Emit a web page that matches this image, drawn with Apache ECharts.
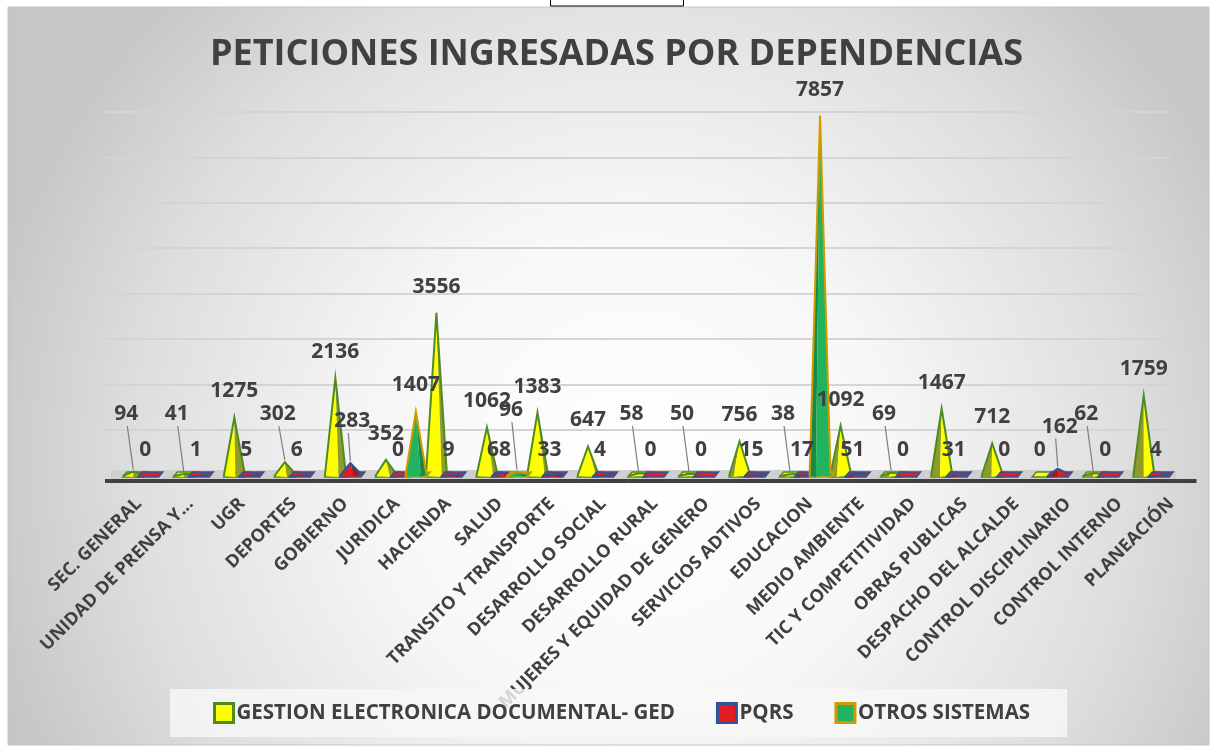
<!DOCTYPE html>
<html>
<head>
<meta charset="utf-8">
<script src="https://cdn.jsdelivr.net/npm/echarts@6/dist/echarts.min.js"></script>
<style>
  html, body { margin: 0; padding: 0; background: #fff; }
  #chart { width: 1217px; height: 747px; }
</style>
</head>
<body>
<div id="chart"></div>
<script>
// datos
const categories = [
  'SEC. GENERAL', 'UNIDAD DE PRENSA Y...', 'UGR', 'DEPORTES', 'GOBIERNO', 'JURIDICA',
  'HACIENDA', 'SALUD', 'TRANSITO Y TRANSPORTE', 'DESARROLLO SOCIAL', 'DESARROLLO RURAL',
  'MUJERES Y EQUIDAD DE GENERO', 'SERVICIOS ADTIVOS', 'EDUCACION', 'MEDIO AMBIENTE',
  'TIC Y COMPETITIVIDAD', 'OBRAS PUBLICAS', 'DESPACHO DEL ALCALDE', 'CONTROL DISCIPLINARIO',
  'CONTROL INTERNO', 'PLANEACIÓN'
]
const gedValues = [94, 41, 1275, 302, 2136, 352, 3556, 1062, 1383, 647, 58, 50, 756, 38, 1092, 69, 1467, 712, 0, 62, 1759]
const pqrsValues = [0, 1, 5, 6, 283, 0, 9, 68, 33, 4, 0, 0, 15, 17, 51, 0, 31, 0, 162, 0, 4]
const otrosValues = [null, null, null, null, null, 1407, null, 96, null, null, null, null, null, 7857, null, null, null, null, null, null, null]
const seriesNames = ['GESTION ELECTRONICA DOCUMENTAL- GED', 'PQRS', 'OTROS SISTEMAS']

const FONT = '"Open Sans", "Noto Sans", sans-serif'
const TXT = '#404040'

// estilo de cada piramide
const looks = [
  { offset: -15, face: '#ffff00', side: '#8f9c2c', edge: '#4f8a23', kind: 'ged' },
  { offset: 0, face: '#e31b23', side: '#a01820', edge: '#2f5597', kind: 'pqrs' },
  { offset: 15, face: '#22b35e', side: '#178a45', edge: '#d09a00', kind: 'otros' }
]

const chart = echarts.init(document.getElementById('chart'))

const VIEW_X = 600 // centro de la perspectiva

const pyramid = (look) => (params, api) => {
  const v = api.value(1)
  if (isNaN(v)) return
  const idx = api.value(0)
  const p0 = api.coord([idx, 0])
  const p1 = api.coord([idx, v])
  const base = p0[1]
  const cx = p0[0] + look.offset
  const hw = 10.5
  const by = base
  const ax = cx
  const ay = p1[1]
  const kids = []
  kids.push({
    type: 'polygon',
    shape: { points: [[cx - hw, by + 1], [cx + hw, by + 1], [cx + hw + 4, by - 4], [cx - hw + 4, by - 4]] },
    style: { fill: look.face, stroke: look.edge, lineWidth: 1.5 }
  })
  if (v > 0) {
    const d = cx - VIEW_X
    const f = Math.min(0.5, Math.abs(d) / 1000 + 0.08)
    const L = [cx - hw, by], R = [cx + hw, by - 2], A = [ax, ay]
    if (d < 0) {
      const s = [cx + hw - 2 * hw * f, by + 1]
      kids.push({ type: 'polygon', shape: { points: [L, A, s] }, style: { fill: look.face } })
      kids.push({ type: 'polygon', shape: { points: [s, A, R] }, style: { fill: look.side } })
    } else {
      const s = [cx - hw + 2 * hw * f, by + 1]
      kids.push({ type: 'polygon', shape: { points: [L, A, s] }, style: { fill: look.side } })
      kids.push({ type: 'polygon', shape: { points: [s, A, R] }, style: { fill: look.face } })
    }
    kids.push({
      type: 'polyline',
      shape: { points: [L, A, R] },
      style: { fill: null, stroke: look.edge, lineWidth: 2, lineJoin: 'miter' }
    })
  }
  // etiqueta
  let ly, lx = ax, line = false
  if (look.kind === 'ged') {
    if (v === 0) { ly = base - 26; lx = ax - 3 }
    else if (v >= 350) { ly = ay - 26 }
    else { ly = base - 62; line = true; lx = ax - 7 }
  } else if (look.kind === 'pqrs') {
    if (v >= 100) { ly = ay - 42; line = true; lx = ax + 2 }
    else { ly = base - 26; lx = ax - 3 }
  } else {
    ly = Math.min(ay - 26, base - 66)
    if (ly < ay - 40) { line = true; lx = ax - 6 }
  }
  if (line) {
    kids.push({
      type: 'line', z2: 50,
      shape: { x1: lx + (look.kind === 'pqrs' ? -4 : 1), y1: ly + 12, x2: ax, y2: ay - 2 },
      style: { stroke: '#7f7f7f', lineWidth: 1.2 }
    })
  }
  kids.push({
    type: 'text', z2: 100,
    style: {
      text: String(v), x: lx, y: ly, align: 'center', verticalAlign: 'middle',
      fill: TXT, font: 'bold 21px ' + FONT
    }
  })
  return { type: 'group', children: kids }
}

const floor = (params, api) => {
  const idx = api.value(0)
  const p0 = api.coord([idx, 0])
  const bw = api.size([1, 0])[0]
  let x0 = p0[0] - bw / 2
  let x1 = p0[0] + bw / 2
  let b0 = x0, b1 = x1
  if (idx === 0) { x0 -= 12; b0 -= 18 }
  if (idx === categories.length - 1) { x1 -= 8; b1 += 12 }
  return {
    type: 'group',
    children: [
      { type: 'rect', shape: { x: x0, y: p0[1] - 6, width: x1 - x0 + 0.5, height: 9 }, style: { fill: '#cfcfcf' } },
      { type: 'rect', shape: { x: b0, y: p0[1] + 3, width: b1 - b0 + 0.5, height: 4 }, style: { fill: '#404040' } }
    ]
  }
}

const toPoints = (arr) => arr.map((v, i) => [i, v])

const option = {
  animation: false,
  backgroundColor: '#ffffff',
  graphic: [
    {
      type: 'rect', z: -100, silent: true,
      shape: { x: 8, y: 7, width: 1201, height: 738 },
      style: {
        fill: new echarts.graphic.RadialGradient(0.52, 0.62, 0.9, [
          { offset: 0, color: '#ffffff' },
          { offset: 0.38, color: '#f7f7f7' },
          { offset: 0.75, color: '#dedede' },
          { offset: 1, color: '#c6c6c6' }
        ]),
        stroke: '#c4c4c4', lineWidth: 1
      }
    },
    {
      type: 'rect', z: 100, silent: true,
      shape: { x: 550.5, y: -1, width: 133, height: 7 },
      style: { fill: '#ffffff', stroke: '#000000', lineWidth: 1 }
    }
  ],
  title: {
    text: 'PETICIONES INGRESADAS POR DEPENDENCIAS',
    left: 205,
    top: 32,
    textStyle: { fontFamily: FONT, fontWeight: 'bold', fontSize: 36, color: TXT }
  },
  legend: {
    left: 170,
    top: 689,
    padding: [13, 37, 13, 43],
    itemGap: 41,
    itemWidth: 19,
    itemHeight: 19,
    backgroundColor: 'rgba(248,248,248,0.8)',
    textStyle: { fontFamily: FONT, fontWeight: 'bold', fontSize: 20.5, color: TXT, padding: [0, 0, 0, -2] },
    data: seriesNames.map((n, i) => ({
      name: n,
      icon: 'rect',
      itemStyle: { color: looks[i].face, borderColor: looks[i].edge, borderWidth: 3 }
    }))
  },
  grid: [
    { left: 123, right: 33, top: 109, bottom: 271 },
    { left: 113, right: 20, top: 109, bottom: 271 },
    { left: 105, right: 47, top: 112, bottom: 272 }
  ],
  xAxis: [
    {
      type: 'category', gridIndex: 0, data: categories,
      axisLine: { show: false }, axisTick: { show: false }, axisLabel: { show: false }
    },
    {
      type: 'category', gridIndex: 1, data: categories,
      axisLine: { show: false }, axisTick: { show: false },
      axisLabel: {
        rotate: 45, margin: 25, interval: 0,
        fontFamily: FONT, fontWeight: 'bold', fontSize: 18, color: TXT
      }
    },
    { type: 'value', gridIndex: 2, show: false }
  ],
  yAxis: [
    {
      type: 'value', gridIndex: 0, min: 0, max: 8000, show: false
    },
    {
      type: 'value', gridIndex: 1, min: 0, max: 8000, show: false
    },
    {
      type: 'value', gridIndex: 2, min: 0, max: 8000, interval: 1000,
      axisLine: { show: false }, axisTick: { show: false }, axisLabel: { show: false },
      splitLine: { lineStyle: { color: '#d4d4d4', width: 2 } }
    }
  ],
  series: [
    {
      type: 'custom', name: 'floor', z: 1, silent: true, clip: false,
      renderItem: floor, data: categories.map((c, i) => [i, 0])
    },
    ...seriesNames.map((n, i) => ({
      type: 'custom',
      name: n,
      z: 2,
      clip: false,
      itemStyle: { color: looks[i].face },
      renderItem: pyramid(looks[i]),
      data: toPoints([gedValues, pqrsValues, otrosValues][i])
    }))
  ]
}

chart.setOption(option)
</script>
</body>
</html>
